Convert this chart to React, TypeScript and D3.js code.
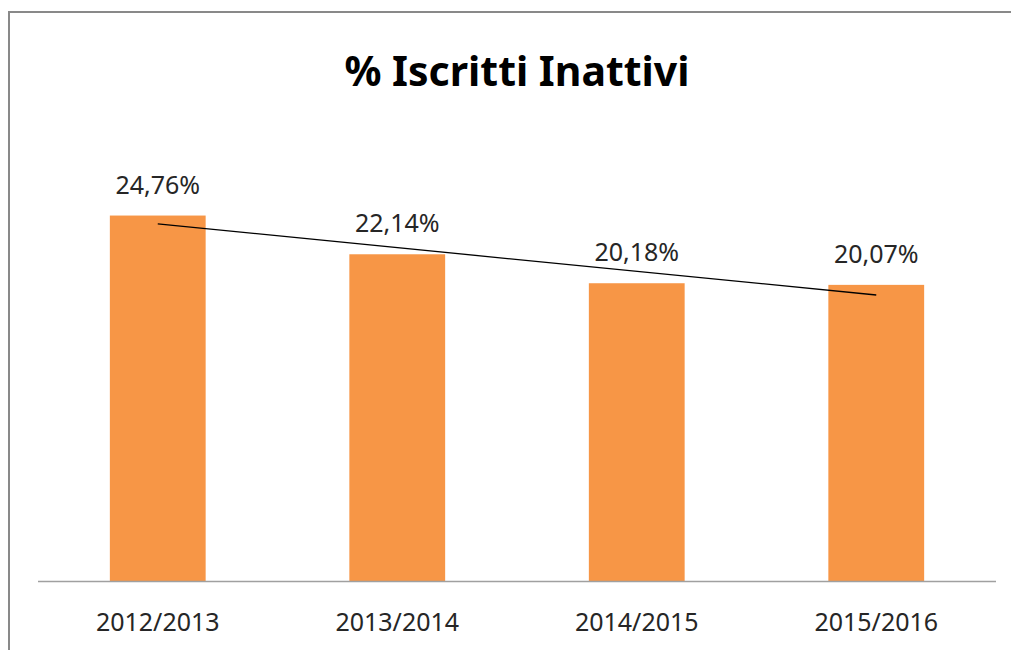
import * as d3 from 'd3';
import React, { useRef, useEffect } from 'react';

const years = ['2012/2013', '2013/2014', '2014/2015', '2015/2016'];
const inactive = [24.76, 22.14, 20.18, 20.07];
const labels = ['24,76%', '22,14%', '20,18%', '20,07%'];

function BarChart(props) {
    const ref = useRef();

    useEffect(() => {
        const svg = d3.select(ref.current);
        svg.selectAll('*').remove();

        const font = "'Noto Sans', 'Open Sans', sans-serif";

        // frame (only top + left visible in the crop)
        svg.append('path')
            .attr('d', `M9,${props.height} V12 H${props.width}`)
            .attr('fill', 'none')
            .attr('stroke', '#898989')
            .attr('stroke-width', 2);

        const x = d3.scaleBand()
            .domain(years)
            .range([38, 996])
            .paddingInner(0.6)
            .paddingOuter(0.3);

        const y = d3.scaleLinear()
            .domain([0, 30])
            .range([581.5, 581.5 - 30 * 14.78]);

        svg.append('text')
            .attr('x', 517)
            .attr('y', 86)
            .attr('text-anchor', 'middle')
            .style('font-family', font)
            .style('font-weight', 'bold')
            .style('font-size', '41px')
            .attr('fill', '#000')
            .text('% Iscritti Inattivi');

        svg.selectAll('.bar')
            .data(inactive)
            .enter()
            .append('rect')
            .attr('class', 'bar')
            .attr('x', (d, i) => x(years[i]))
            .attr('width', x.bandwidth())
            .attr('y', d => y(d))
            .attr('height', d => y(0) - y(d))
            .attr('fill', '#F79646');

        // baseline
        svg.append('line')
            .attr('x1', x.range()[0])
            .attr('x2', x.range()[1])
            .attr('y1', y(0))
            .attr('y2', y(0))
            .attr('stroke', '#A0A0A0')
            .attr('stroke-width', 1.5);

        svg.selectAll('.lbl')
            .data(inactive)
            .enter()
            .append('text')
            .attr('class', 'lbl')
            .attr('x', (d, i) => x(years[i]) + x.bandwidth() / 2)
            .attr('y', d => y(d) - 22)
            .attr('text-anchor', 'middle')
            .style('font-family', font)
            .style('font-size', '25px')
            .attr('fill', '#262626')
            .text((d, i) => labels[i]);

        svg.selectAll('.xlbl')
            .data(years)
            .enter()
            .append('text')
            .attr('class', 'xlbl')
            .attr('x', d => x(d) + x.bandwidth() / 2)
            .attr('y', 631)
            .attr('text-anchor', 'middle')
            .style('font-family', font)
            .style('font-size', '25px')
            .attr('fill', '#262626')
            .text(d => d);

        // linear trend line (least squares over the series)
        const xs = inactive.map((d, i) => i + 1);
        const mx = d3.mean(xs);
        const my = d3.mean(inactive);
        const slope = d3.sum(xs, (v, i) => (v - mx) * (inactive[i] - my)) / d3.sum(xs, v => (v - mx) ** 2);
        const ends = [0, years.length - 1];

        const line = d3.line()
            .x(i => x(years[i]) + x.bandwidth() / 2)
            .y(i => y(my + slope * (xs[i] - mx)));

        svg.append('path')
            .datum(ends)
            .attr('d', line)
            .attr('fill', 'none')
            .attr('stroke', '#000')
            .attr('stroke-width', 1.3);
    }, []);

    return (
        <svg ref={ref} width={props.width} height={props.height}
             style={{ position: 'absolute', left: 0, top: 0, background: '#fff' }} />
    );
}

export default function App() {
    return <BarChart width={1011} height={650} />;
}
